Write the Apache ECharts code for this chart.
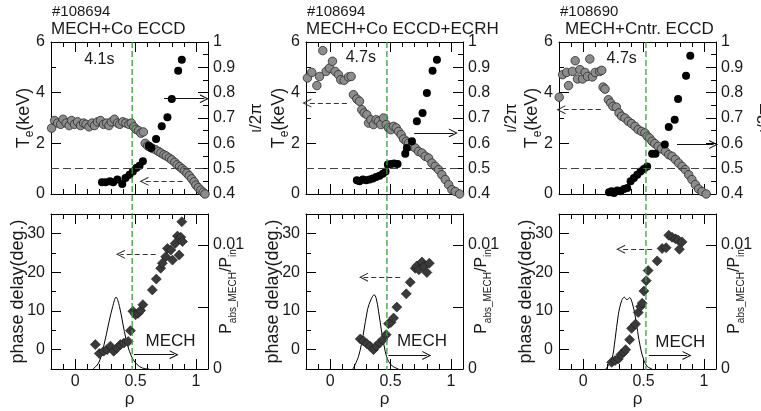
<!DOCTYPE html>
<html><head><meta charset="utf-8">
<script src="https://cdn.jsdelivr.net/npm/echarts@6/dist/echarts.min.js"></script>
<style>html,body{margin:0;padding:0;background:#fff}#c{width:761px;height:411px}</style>
</head><body><div id="c"></div><script>
// ---------------- DATA ----------------
const titleShot = ['#108694', '#108694', '#108690'];
const titleCase = ['MECH+Co ECCD', 'MECH+Co ECCD+ECRH', 'MECH+Cntr. ECCD'];
const timeText = ['4.1s', '4.7s', '4.7s'];
const timePos = [[0.2, 5.3], [0.254, 5.37], [0.319, 5.33]];
const greenRho = [0.472, 0.47, 0.52];
const mechPos = [[0.79, 2.1], [0.76, 2.1], [0.805, 1.9]];

// labelled (long) tick values
const rhoMajor = [0, 0.5, 1];
const teMajor = [0, 2, 4, 6];
const iotaMajor = [0.4, 0.5, 0.6, 0.7, 0.8, 0.9, 1];
const phaseMajor = [0, 10, 20, 30];
const powMajor = [0, 0.005, 0.01];

// Te (keV) vs rho, grey circles
const te1 = [[-0.195,2.6],[-0.17,2.9],[-0.145,2.8],[-0.12,2.75],[-0.1,2.95],[-0.075,2.8],[-0.05,2.7],[-0.03,2.9],[-0.005,2.75],[0.02,2.85],[0.045,2.7],[0.07,2.8],[0.09,2.75],[0.115,2.65],[0.14,2.8],[0.16,2.7],[0.185,2.85],[0.21,2.9],[0.235,2.75],[0.26,2.8],[0.28,2.7],[0.3,2.85],[0.325,2.95],[0.35,2.8],[0.37,2.75],[0.395,2.85],[0.42,2.8],[0.445,2.75],[0.465,2.8],[0.485,2.65],[0.505,2.55],[0.525,2.5],[0.545,2.4],[0.565,2.45],[0.58,2.0],[0.6,1.9],[0.62,1.85],[0.64,1.8],[0.665,1.75],[0.69,1.68],[0.71,1.62],[0.735,1.55],[0.755,1.5],[0.78,1.42],[0.8,1.35],[0.825,1.25],[0.845,1.15],[0.865,1.08],[0.885,1.0],[0.905,0.92],[0.925,0.82],[0.945,0.72],[0.965,0.6],[0.985,0.48],[1.0,0.35],[1.02,0.25],[1.04,0.15],[1.06,0.07],[1.075,0.0]];
const te2 = [[-0.207,3.88],[-0.188,4.58],[-0.152,4.8],[-0.11,4.28],[-0.088,4.64],[-0.061,5.66],[-0.033,4.84],[-0.006,4.97],[0.019,5.24],[0.041,4.84],[0.069,4.71],[0.088,4.51],[0.116,4.49],[0.152,4.62],[0.174,4.64],[0.193,3.92],[0.221,3.75],[0.243,3.66],[0.262,3.33],[0.282,3.2],[0.304,3.13],[0.318,2.8],[0.337,2.93],[0.359,2.74],[0.381,2.93],[0.4,2.87],[0.42,2.74],[0.442,3.0],[0.464,2.74],[0.483,2.61],[0.503,2.54],[0.525,2.67],[0.547,2.61],[0.566,2.47],[0.588,2.34],[0.608,2.17],[0.63,2.08],[0.649,2.01],[0.677,1.88],[0.704,1.82],[0.732,1.68],[0.76,1.62],[0.787,1.49],[0.815,1.42],[0.843,1.22],[0.87,1.09],[0.898,0.96],[0.925,0.76],[0.953,0.57],[0.981,0.37],[1.008,0.17],[1.036,0.1],[1.072,0.0]];
const te3 = [[-0.198,3.82],[-0.17,4.71],[-0.137,4.8],[-0.121,4.28],[-0.088,4.84],[-0.066,5.26],[-0.047,4.54],[-0.027,4.91],[-0.005,4.54],[0.016,4.8],[0.036,4.64],[0.055,5.33],[0.077,4.62],[0.099,4.8],[0.137,4.84],[0.154,4.88],[0.165,4.22],[0.181,4.14],[0.209,3.72],[0.228,3.59],[0.247,3.46],[0.275,3.43],[0.297,3.2],[0.319,3.07],[0.346,3.0],[0.374,2.87],[0.401,2.78],[0.429,2.67],[0.456,2.54],[0.484,2.47],[0.511,2.41],[0.53,2.28],[0.549,2.21],[0.571,2.08],[0.593,1.99],[0.621,1.88],[0.648,1.78],[0.681,1.68],[0.709,1.55],[0.736,1.49],[0.764,1.36],[0.791,1.22],[0.819,1.09],[0.846,0.96],[0.874,0.76],[0.901,0.57],[0.929,0.37],[0.956,0.2],[0.984,0.1],[1.019,0.0]];

// iota/2pi vs rho, black dots
const iota1 = [[0.222,0.446],[0.252,0.446],[0.288,0.45],[0.315,0.446],[0.35,0.457],[0.39,0.439],[0.417,0.463],[0.45,0.476],[0.478,0.489],[0.506,0.503],[0.533,0.512],[0.561,0.529],[0.61,0.59],[0.63,0.582],[0.67,0.617],[0.717,0.667],[0.764,0.703],[0.8,0.775],[0.853,0.887],[0.883,0.93]];
const iota2 = [[0.221,0.454],[0.243,0.45],[0.271,0.457],[0.298,0.454],[0.326,0.457],[0.354,0.461],[0.381,0.467],[0.409,0.472],[0.436,0.48],[0.459,0.489],[0.478,0.516],[0.503,0.518],[0.53,0.52],[0.558,0.518],[0.622,0.559],[0.635,0.582],[0.677,0.608],[0.718,0.687],[0.765,0.72],[0.801,0.799],[0.848,0.887],[0.884,0.93]];
const iota3 = [[0.214,0.407],[0.236,0.411],[0.255,0.404],[0.283,0.414],[0.31,0.411],[0.338,0.42],[0.365,0.424],[0.393,0.45],[0.42,0.463],[0.448,0.476],[0.475,0.489],[0.503,0.499],[0.53,0.509],[0.571,0.559],[0.599,0.559],[0.676,0.595],[0.709,0.664],[0.758,0.693],[0.786,0.775],[0.852,0.867],[0.887,0.946]];

// phase delay (deg.) vs rho, diamonds
const phase1 = [[0.167,1.3],[0.2,-1.0],[0.236,-0.4],[0.264,0.0],[0.292,0.9],[0.319,-0.4],[0.347,0.4],[0.375,1.3],[0.403,1.7],[0.439,2.1],[0.458,4.9],[0.478,9.9],[0.5,9.0],[0.522,9.4],[0.542,10.1],[0.561,11.6],[0.639,15.4],[0.672,18.2],[0.708,21.0],[0.722,22.3],[0.75,24.0],[0.764,26.1],[0.792,25.7],[0.806,23.1],[0.828,27.4],[0.847,29.3],[0.861,24.4],[0.875,29.0],[0.889,27.9],[0.883,33.0]];
const phase2 = [[0.249,2.74],[0.276,2.23],[0.304,1.54],[0.331,0.86],[0.359,0.0],[0.381,0.86],[0.409,1.71],[0.436,2.57],[0.464,3.86],[0.483,6.69],[0.503,7.03],[0.525,8.14],[0.552,10.97],[0.63,14.4],[0.663,17.4],[0.704,21.0],[0.718,21.6],[0.735,20.6],[0.76,22.6],[0.776,21.4],[0.801,19.9],[0.821,22.3]];
const phase3 = [[0.236,-3.26],[0.264,-2.83],[0.291,-2.4],[0.313,-1.29],[0.335,-0.69],[0.352,0.0],[0.385,2.57],[0.401,5.49],[0.434,6.6],[0.456,9.6],[0.475,11.1],[0.489,12.0],[0.503,15.1],[0.522,17.8],[0.538,20.4],[0.613,22.9],[0.654,26.1],[0.687,26.3],[0.709,29.5],[0.736,29.0],[0.764,28.6],[0.786,28.3],[0.797,25.9],[0.819,27.8]];

// P_abs_MECH / P_in profile vs rho
const pow1 = [[0.147,0],[0.194,0.00048],[0.236,0.00182],[0.278,0.0037],[0.311,0.00504],[0.339,0.00579],[0.367,0.00504],[0.394,0.0037],[0.422,0.00236],[0.45,0.00142],[0.478,0.0008],[0.514,0.00035],[0.556,0.00008],[0.611,0]];
const pow2 = [[0.188,0],[0.235,0.00102],[0.276,0.0029],[0.309,0.00477],[0.337,0.00558],[0.365,0.00598],[0.381,0.00571],[0.401,0.00464],[0.428,0.0029],[0.456,0.00142],[0.483,0.00062],[0.519,0.00021],[0.566,0]];
const pow3 = [[0.187,0],[0.236,0.00075],[0.264,0.00236],[0.291,0.00437],[0.319,0.00552],[0.341,0.00579],[0.363,0.00558],[0.385,0.00576],[0.407,0.00531],[0.429,0.00437],[0.451,0.00303],[0.475,0.00169],[0.503,0.0007],[0.53,0.00021],[0.571,0]];

// annotation arrows [tail, head] in data units
const topDashArrow = [[[0.89,0.5],[0.57,0.5]], [[0.138,3.59],[-0.193,3.59]], [[0.146,3.33],[-0.184,3.33]]];
const topSolidArrow = [[[0.736,3.76],[1.07,3.76]], [[0.696,2.41],[1.02,2.41]], [[0.777,1.95],[1.08,1.95]]];
const botDashArrow = [[[0.667,24.6],[0.375,24.6]], [[0.58,18.7],[0.276,18.7]], [[0.571,25.9],[0.31,25.9]]];
const botSolidArrow = [[[0.486,-1.3],[0.819,-1.3]], [[0.483,-1.5],[0.8,-1.5]], [[0.544,-1.5],[0.86,-1.5]]];

const teData = [te1, te2, te3];
const iotaData = [iota1, iota2, iota3];
const phaseData = [phase1, phase2, phase3];
const powData = [pow1, pow2, pow3];

// ---------------- LAYOUT / STYLE ----------------
const FF = '"Liberation Sans", Arial, Helvetica, sans-serif';
const colLeft = [51, 306, 559];
const colW = 157;
const rowTop = [42, 214];
const rowH = [152, 155];
const chevron = 'path://M0,10 L5,0 L10,10 L8.7,10 L5,2.6 L1.3,10 Z';
const SHORT = 5, LONG = 10;

const chart = echarts.init(document.getElementById('c'), null, {renderer: 'canvas'});

const grids = [], xAxes = [], yAxes = [], series = [], titles = [];
const tick = {show: true, inside: true, length: SHORT, lineStyle: {color: '#000', width: 1}};
const line = {show: true, onZero: false, lineStyle: {color: '#000', width: 1}};
const xFmt = v => { const k = Math.round(v * 10); return k === 0 ? '0' : k === 5 ? '0.5' : k === 10 ? '1' : ''; };

// main grids 0..5, overlay grids 6..11 (same rectangles, long ticks only)
for (let k = 0; k < 2; k++) for (let r = 0; r < 2; r++) for (let c = 0; c < 3; c++) {
  grids.push({left: colLeft[c], top: rowTop[r], width: colW, height: rowH[r], containLabel: false, outerBoundsMode: 'none'});
}
const longAxis = (base, values) => Object.assign({}, base, {
  axisLine: {show: false, onZero: false}, axisLabel: {show: false}, splitLine: {show: false}, name: '',
  axisTick: {show: true, inside: true, length: LONG, customValues: values, lineStyle: {color: '#000', width: 1}}});

for (let g = 0; g < 6; g++) {
  const r = g < 3 ? 0 : 1;
  const xb = {type: 'value', gridIndex: g, position: 'bottom', min: -0.2, max: 1.1, interval: 0.1};
  const xt = {type: 'value', gridIndex: g, position: 'top', min: -0.2, max: 1.1, interval: 0.1};
  xAxes[g] = Object.assign({}, xb, {
    axisLine: line, axisTick: tick, splitLine: {show: false},
    axisLabel: {show: r === 1, formatter: xFmt, fontSize: 16, fontFamily: FF, color: '#1a1a1a', margin: 5},
    name: r === 1 ? 'ρ' : '', nameLocation: 'middle', nameGap: 22, nameMoveOverlap: false,
    nameTextStyle: {fontSize: 17, fontFamily: FF, color: '#1a1a1a'}});
  xAxes[6 + g] = Object.assign({}, xt, {axisLine: line, axisTick: tick, splitLine: {show: false}, axisLabel: {show: false}});
  xAxes[12 + g] = longAxis(Object.assign({}, xb, {gridIndex: 6 + g}), rhoMajor);
  xAxes[18 + g] = longAxis(Object.assign({}, xt, {gridIndex: 6 + g}), rhoMajor);

  if (r === 0) {
    const yl = {type: 'value', gridIndex: g, position: 'left', min: 0, max: 6, interval: 1};
    const yr = {type: 'value', gridIndex: g, position: 'right', min: 0.4, max: 1, interval: 0.05};
    yAxes[g] = Object.assign({}, yl, {
      axisLine: line, axisTick: tick, splitLine: {show: false},
      axisLabel: {formatter: v => (Math.round(v) % 2 === 0 ? String(Math.round(v)) : ''), fontSize: 16, fontFamily: FF, color: '#1a1a1a', margin: 6},
      name: '{m|T}{s|e}{m|(keV)}', nameLocation: 'middle', nameRotate: 90, nameGap: 18, nameMoveOverlap: false,
      nameTextStyle: {fontFamily: FF, color: '#1a1a1a', rich: {
        m: {fontSize: 18, lineHeight: 18, verticalAlign: 'top', fontFamily: FF, color: '#1a1a1a'},
        s: {fontSize: 12, lineHeight: 12, verticalAlign: 'top', padding: [9, 0, 0, 0], fontFamily: FF, color: '#1a1a1a'}}}});
    yAxes[6 + g] = Object.assign({}, yr, {
      axisLine: line, axisTick: tick, splitLine: {show: false},
      axisLabel: {formatter: v => { const k = Math.round(v * 20); return k % 2 === 0 ? (k === 20 ? '1' : (k / 20).toFixed(1)) : ''; },
        fontSize: 16, fontFamily: FF, color: '#1a1a1a', margin: 5},
      name: 'ι/2π', nameLocation: 'middle', nameRotate: 90, nameGap: 40, nameMoveOverlap: false,
      nameTextStyle: {fontSize: 17, fontFamily: FF, color: '#1a1a1a'}});
    yAxes[12 + g] = longAxis(Object.assign({}, yl, {gridIndex: 6 + g}), teMajor);
    yAxes[18 + g] = longAxis(Object.assign({}, yr, {gridIndex: 6 + g}), iotaMajor);
  } else {
    const yl = {type: 'value', gridIndex: g, position: 'left', min: -5, max: 35, interval: 5};
    const yr = {type: 'value', gridIndex: g, position: 'right', min: 0, max: 0.0125, interval: 0.005};
    yAxes[g] = Object.assign({}, yl, {
      axisLine: line, axisTick: tick, splitLine: {show: false},
      axisLabel: {formatter: v => (Math.round(v) % 10 === 0 ? String(Math.round(v)) : ''), fontSize: 16, fontFamily: FF, color: '#1a1a1a', margin: 6},
      name: 'phase delay(deg.)', nameLocation: 'middle', nameRotate: 90, nameGap: 24, nameMoveOverlap: false,
      nameTextStyle: {fontSize: 18, fontFamily: FF, color: '#1a1a1a'}});
    yAxes[6 + g] = Object.assign({}, yr, {
      axisLine: line, axisTick: tick, splitLine: {show: false},
      axisLabel: {formatter: v => { const k = Math.round(v * 1000); return k === 0 ? '0' : k === 10 ? '0.01' : ''; },
        fontSize: 16, fontFamily: FF, color: '#1a1a1a', margin: 5},
      name: '{m|P}{s|abs_MECH}{m|/P}{s|in}', nameLocation: 'middle', nameRotate: 90, nameGap: 11, nameMoveOverlap: false,
      nameTextStyle: {fontFamily: FF, color: '#1a1a1a', rich: {
        m: {fontSize: 16, lineHeight: 16, verticalAlign: 'top', fontFamily: FF, color: '#1a1a1a'},
        s: {fontSize: 10, lineHeight: 10, verticalAlign: 'top', padding: [9, 0, 0, 0], fontFamily: FF, color: '#1a1a1a'}}}});
    yAxes[12 + g] = longAxis(Object.assign({}, yl, {gridIndex: 6 + g}), phaseMajor);
    yAxes[18 + g] = longAxis(Object.assign({}, yr, {gridIndex: 6 + g}), powMajor);
  }
}

const arrowPair = (pair, dashed) => [
  {coord: pair[0], lineStyle: dashed ? {type: [5, 3], color: '#333', width: 1.2} : {type: 'solid', color: '#111', width: 1.2}},
  {coord: pair[1]}
];
const txtStyle = (size) => ({show: true, position: 'inside', fontSize: size, fontFamily: FF, color: '#1a1a1a'});

for (let c = 0; c < 3; c++) {
  titles.push({text: titleShot[c], left: colLeft[c] + 1, top: 4, padding: 0,
    textStyle: {fontSize: 15, fontWeight: 'normal', fontFamily: FF, color: '#1a1a1a'}});
  titles.push({text: titleCase[c], left: colLeft[c] + (c === 2 ? 6 : 0), top: 21, padding: 0,
    textStyle: {fontSize: 17, fontWeight: 'normal', fontFamily: FF, color: '#1a1a1a'}});

  series.push({type: 'scatter', name: 'Te' + c, xAxisIndex: c, yAxisIndex: c, data: teData[c],
    symbol: 'circle', symbolSize: 8.5, itemStyle: {color: '#8c8c8c', borderColor: '#2b2b2b', borderWidth: 0.8, opacity: 1},
    markLine: {silent: true, animation: false, symbol: ['none', chevron], symbolSize: 9, label: {show: false},
      data: [arrowPair(topDashArrow[c], true), arrowPair(topSolidArrow[c], false)]},
    markPoint: {silent: true, animation: false, symbol: 'circle', symbolSize: 1, itemStyle: {color: 'rgba(0,0,0,0)'},
      label: txtStyle(16), data: [{coord: timePos[c], value: timeText[c], label: {formatter: timeText[c]}}]}
  });
  series.push({type: 'scatter', name: 'iota' + c, xAxisIndex: c, yAxisIndex: 6 + c, data: iotaData[c],
    symbol: 'circle', symbolSize: 8, itemStyle: {color: '#000', opacity: 1},
    markLine: {silent: true, animation: false, symbol: ['none', 'none'], label: {show: false},
      lineStyle: {type: [8, 4], color: '#444', width: 1.2}, data: [{yAxis: 0.5}]}
  });
  series.push({type: 'line', name: 'pow' + c, xAxisIndex: 3 + c, yAxisIndex: 9 + c, data: powData[c],
    smooth: 0.35, showSymbol: false, lineStyle: {color: '#000', width: 1}, z: 2});
  series.push({type: 'scatter', name: 'phase' + c, xAxisIndex: 3 + c, yAxisIndex: 3 + c, data: phaseData[c],
    symbol: 'diamond', symbolSize: 10, itemStyle: {color: '#3a3a3a', borderColor: '#1a1a1a', borderWidth: 0.6, opacity: 1}, z: 3,
    markLine: {silent: true, animation: false, symbol: ['none', chevron], symbolSize: 9, label: {show: false},
      data: [arrowPair(botDashArrow[c], true), arrowPair(botSolidArrow[c], false)]},
    markPoint: {silent: true, animation: false, symbol: 'circle', symbolSize: 1, itemStyle: {color: 'rgba(0,0,0,0)'},
      label: txtStyle(17), data: [{coord: mechPos[c], value: 'MECH', label: {formatter: 'MECH'}}]}
  });
}

chart.setOption({
  animation: false,
  backgroundColor: '#fff',
  textStyle: {fontFamily: FF},
  title: titles,
  grid: grids,
  xAxis: xAxes,
  yAxis: yAxes,
  series: series
});

// green dashed vertical line through both rows, placed via the axes
const gfx = [];
for (let c = 0; c < 3; c++) {
  const x = chart.convertToPixel({xAxisIndex: c}, greenRho[c]);
  const yTop = chart.convertToPixel({yAxisIndex: c}, 6);
  const yBot = chart.convertToPixel({yAxisIndex: 3 + c}, -5);
  gfx.push({type: 'line', silent: true, z: 100,
    shape: {x1: x, y1: yTop, x2: x, y2: yBot + 1},
    style: {stroke: '#37a137', lineWidth: 1.3, lineDash: [6, 3]}});
}
chart.setOption({graphic: gfx});
</script></body></html>
